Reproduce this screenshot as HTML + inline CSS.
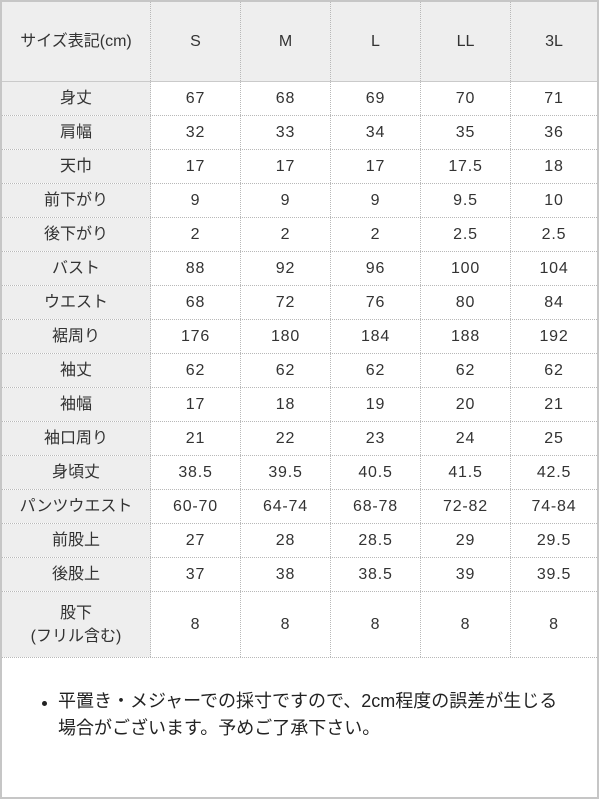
<!DOCTYPE html>
<html lang="ja">
<head>
<meta charset="utf-8">
<style>
  html, body { margin: 0; padding: 0; background: #fff; }
  body { width: 600px; height: 800px; position: relative; overflow: hidden;
         font-family: "Liberation Sans", "Noto Sans CJK JP", sans-serif; color: #333; }
  .frame { position: absolute; left: 0; top: 0; width: 599px; height: 799px;
           box-sizing: border-box; border: 2px solid #c6c6c6; }
  .tbl { position: absolute; left: 2px; top: 2px; width: 595px; }
  .row { display: flex; height: 34px; box-sizing: border-box; border-bottom: 1px dotted #b8b8b8; }
  .row.head { height: 80px; border-bottom: 1px solid #cacaca; background: #eeeeee; }
  .row.tall { height: 66px; }
  .c { box-sizing: border-box; width: 90px; border-right: 1px dotted #b8b8b8;
       display: flex; align-items: center; justify-content: center; text-align: center;
       font-size: 16px; line-height: 20px; }
  .c.f { width: 149px; background: #eeeeee; }
  .c.l { width: 86px; border-right: none; }
  .n { letter-spacing: 0.8px; }
  .tall .f { line-height: 23px; }
  .note { position: absolute; left: 58px; top: 688px; font-size: 18px; line-height: 27px;
          color: #222; white-space: nowrap; }
  .dot { position: absolute; left: 42px; top: 701px; width: 5px; height: 5px; border-radius: 50%; background: #222; }
</style>
</head>
<body>
<div class="frame"></div>
<div class="tbl">
  <div class="row head">
    <div class="c f">サイズ表記(cm)</div>
    <div class="c">S</div>
    <div class="c">M</div>
    <div class="c">L</div>
    <div class="c">LL</div>
    <div class="c l">3L</div>
  </div>
  <div class="row"><div class="c f">身丈</div><div class="c n">67</div><div class="c n">68</div><div class="c n">69</div><div class="c n">70</div><div class="c l n">71</div></div>
  <div class="row"><div class="c f">肩幅</div><div class="c n">32</div><div class="c n">33</div><div class="c n">34</div><div class="c n">35</div><div class="c l n">36</div></div>
  <div class="row"><div class="c f">天巾</div><div class="c n">17</div><div class="c n">17</div><div class="c n">17</div><div class="c n">17.5</div><div class="c l n">18</div></div>
  <div class="row"><div class="c f">前下がり</div><div class="c n">9</div><div class="c n">9</div><div class="c n">9</div><div class="c n">9.5</div><div class="c l n">10</div></div>
  <div class="row"><div class="c f">後下がり</div><div class="c n">2</div><div class="c n">2</div><div class="c n">2</div><div class="c n">2.5</div><div class="c l n">2.5</div></div>
  <div class="row"><div class="c f">バスト</div><div class="c n">88</div><div class="c n">92</div><div class="c n">96</div><div class="c n">100</div><div class="c l n">104</div></div>
  <div class="row"><div class="c f">ウエスト</div><div class="c n">68</div><div class="c n">72</div><div class="c n">76</div><div class="c n">80</div><div class="c l n">84</div></div>
  <div class="row"><div class="c f">裾周り</div><div class="c n">176</div><div class="c n">180</div><div class="c n">184</div><div class="c n">188</div><div class="c l n">192</div></div>
  <div class="row"><div class="c f">袖丈</div><div class="c n">62</div><div class="c n">62</div><div class="c n">62</div><div class="c n">62</div><div class="c l n">62</div></div>
  <div class="row"><div class="c f">袖幅</div><div class="c n">17</div><div class="c n">18</div><div class="c n">19</div><div class="c n">20</div><div class="c l n">21</div></div>
  <div class="row"><div class="c f">袖口周り</div><div class="c n">21</div><div class="c n">22</div><div class="c n">23</div><div class="c n">24</div><div class="c l n">25</div></div>
  <div class="row"><div class="c f">身頃丈</div><div class="c n">38.5</div><div class="c n">39.5</div><div class="c n">40.5</div><div class="c n">41.5</div><div class="c l n">42.5</div></div>
  <div class="row"><div class="c f">パンツウエスト</div><div class="c n">60-70</div><div class="c n">64-74</div><div class="c n">68-78</div><div class="c n">72-82</div><div class="c l n">74-84</div></div>
  <div class="row"><div class="c f">前股上</div><div class="c n">27</div><div class="c n">28</div><div class="c n">28.5</div><div class="c n">29</div><div class="c l n">29.5</div></div>
  <div class="row"><div class="c f">後股上</div><div class="c n">37</div><div class="c n">38</div><div class="c n">38.5</div><div class="c n">39</div><div class="c l n">39.5</div></div>
  <div class="row tall"><div class="c f">股下<br>(フリル含む)</div><div class="c n">8</div><div class="c n">8</div><div class="c n">8</div><div class="c n">8</div><div class="c l n">8</div></div>
</div>
<div class="dot"></div>
<div class="note">平置き・メジャーでの採寸ですので、2cm程度の誤差が生じる<br>場合がございます。予めご了承下さい。</div>
</body>
</html>
